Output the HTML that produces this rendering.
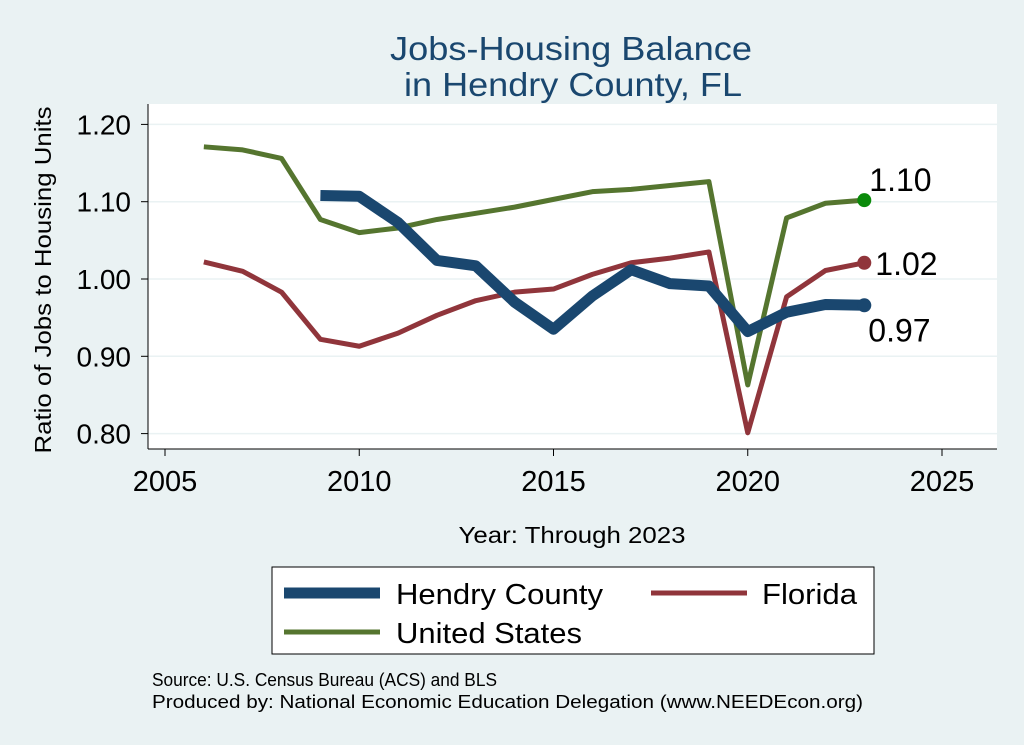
<!DOCTYPE html>
<html><head><meta charset="utf-8"><style>
body{margin:0;background:#eaf2f3;}
svg{display:block;font-family:"Liberation Sans",Arial,sans-serif;}
</style></head><body>
<svg id="chart" width="1024" height="745" viewBox="0 0 1024 745">
<rect x="0" y="0" width="1024" height="745" fill="#eaf2f3"/>
<text x="571" y="60" font-size="33" fill="#1a476f" text-anchor="middle" textLength="362" lengthAdjust="spacingAndGlyphs">Jobs-Housing Balance</text>
<text x="573" y="96" font-size="33" fill="#1a476f" text-anchor="middle" textLength="338" lengthAdjust="spacingAndGlyphs">in Hendry County, FL</text>
<rect x="148" y="104" width="849" height="345" fill="#fff"/>
<g id="grid"></g>
<line x1="148" y1="104" x2="148" y2="449" stroke="#000" stroke-width="1"/>
<line x1="148" y1="449" x2="997" y2="449" stroke="#000" stroke-width="1"/>
<g id="axes"></g><g id="series"></g>
<text transform="translate(51,280) rotate(-90)" font-size="23" text-anchor="middle" textLength="347" lengthAdjust="spacingAndGlyphs">Ratio of Jobs to Housing Units</text>
<text x="572" y="543" font-size="23" text-anchor="middle" textLength="227" lengthAdjust="spacingAndGlyphs">Year: Through 2023</text>
<g>
<rect x="272" y="567" width="602" height="87" fill="#fff" stroke="#000"/>
<line x1="284" y1="593" x2="380" y2="593" stroke="#1a476f" stroke-width="11"/>
<text x="396" y="604" font-size="29" textLength="207" lengthAdjust="spacingAndGlyphs">Hendry County</text>
<line x1="651" y1="593" x2="747" y2="593" stroke="#90353b" stroke-width="5"/>
<text x="762" y="604" font-size="29" textLength="95" lengthAdjust="spacingAndGlyphs">Florida</text>
<line x1="284" y1="632" x2="380" y2="632" stroke="#55752f" stroke-width="5"/>
<text x="396" y="643" font-size="29" textLength="186" lengthAdjust="spacingAndGlyphs">United States</text>
</g>
<text x="152" y="686" font-size="18" textLength="345" lengthAdjust="spacingAndGlyphs">Source: U.S. Census Bureau (ACS) and BLS</text>
<text x="152" y="708" font-size="18" textLength="711" lengthAdjust="spacingAndGlyphs">Produced by: National Economic Education Delegation (www.NEEDEcon.org)</text>
</svg>
<script>
const xTicks=[2005,2010,2015,2020,2025];
const yTicks=[0.8,0.9,1.0,1.1,1.2];
const yTickLabels=["0.80","0.90","1.00","1.10","1.20"];
const usYears=[2006,2007,2008,2009,2010,2011,2012,2013,2014,2015,2016,2017,2018,2019,2020,2021,2022,2023];
const usValues=[1.171,1.167,1.156,1.077,1.060,1.066,1.077,1.085,1.093,1.103,1.113,1.116,1.121,1.126,0.863,1.079,1.098,1.102];
const flYears=usYears;
const flValues=[1.022,1.010,0.983,0.922,0.913,0.930,0.953,0.972,0.983,0.987,1.006,1.021,1.027,1.035,0.801,0.977,1.011,1.021];
const hcYears=[2009,2010,2011,2012,2013,2014,2015,2016,2017,2018,2019,2020,2021,2022,2023];
const hcValues=[1.108,1.107,1.073,1.024,1.017,0.970,0.935,0.978,1.012,0.994,0.991,0.932,0.957,0.967,0.966];
const NS="http://www.w3.org/2000/svg";
const X=v=>165+(v-2005)*38.85;
const Y=v=>279-(v-1.0)*773;
function mk(t,a,p){const e=document.createElementNS(NS,t);for(const k in a)e.setAttribute(k,a[k]);p.appendChild(e);return e;}
const grid=document.getElementById('grid'),axes=document.getElementById('axes'),ser=document.getElementById('series');
yTicks.forEach((v,i)=>{
 const g=mk('line',{x1:148,x2:997,y1:Y(v),y2:Y(v),stroke:'#eaf2f3','stroke-width':1.5},grid);
 
 
 const t=mk('line',{x1:141,x2:148,y1:Y(v),y2:Y(v),stroke:'#000'},axes);
 
 
 const l=mk('text',{x:131,y:Y(v)+10,'font-size':28,'text-anchor':'end'},axes);l.textContent=yTickLabels[i];
 
 
});
xTicks.forEach(v=>{
 const t=mk('line',{x1:X(v),x2:X(v),y1:449,y2:456,stroke:'#000'},axes);
 
 
 const l=mk('text',{x:X(v),y:491,'font-size':29,'text-anchor':'middle'},axes);l.textContent=v;
 
 
});
function line(xs,ys,col,w,name,dotCol,dy,dx){
 const p=mk('polyline',{points:xs.map((x,i)=>X(x)+','+Y(ys[i])).join(' '),fill:'none',stroke:col,'stroke-width':w,'stroke-linejoin':'round'},ser);
 
 
 const n=xs.length-1;
 const c=mk('circle',{cx:X(xs[n]),cy:Y(ys[n]),r:7,fill:dotCol},ser);
 
 
 const t=mk('text',{x:X(xs[n])+dx,y:Y(ys[n])+dy,'font-size':32},ser);t.textContent=ys[n].toFixed(2);
 
 
}
line(usYears,usValues,'#55752f',5,'united-states','#0a8a0a',-9,5);
line(flYears,flValues,'#90353b',5,'florida','#90353b',12,11);
line(hcYears,hcValues,'#1a476f',11,'hendry-county','#1a476f',36,4);
</script>
</body></html>
